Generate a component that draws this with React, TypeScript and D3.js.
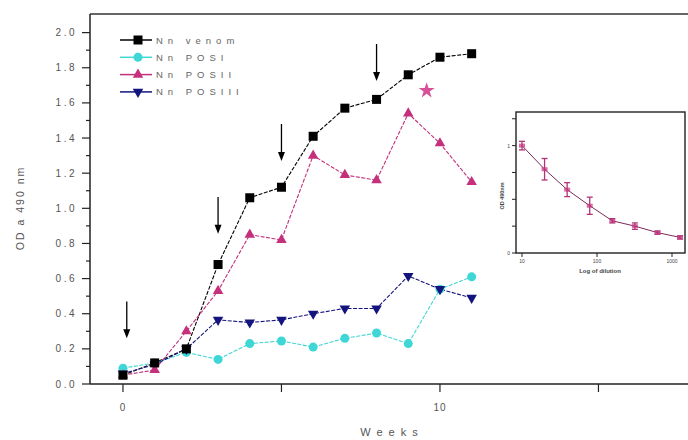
import React from 'react';
import * as d3 from 'd3';

// main chart: weeks 0..11
const weeks = [0, 1, 2, 3, 4, 5, 6, 7, 8, 9, 10, 11];
const venom = [0.05, 0.12, 0.2, 0.68, 1.06, 1.12, 1.41, 1.57, 1.62, 1.76, 1.86, 1.88];
const posI = [0.09, 0.12, 0.18, 0.14, 0.23, 0.245, 0.21, 0.26, 0.29, 0.23, 0.54, 0.61];
const posII = [0.05, 0.08, 0.3, 0.53, 0.85, 0.82, 1.3, 1.19, 1.16, 1.54, 1.37, 1.15];
const posIII = [0.06, 0.11, 0.2, 0.365, 0.35, 0.365, 0.4, 0.43, 0.43, 0.615, 0.54, 0.49];
const seriesNames = ['Nn venom', 'Nn POSI', 'Nn POSII', 'Nn POSIII'];

const yTicks = [0, 0.2, 0.4, 0.6, 0.8, 1.0, 1.2, 1.4, 1.6, 1.8, 2.0];
const xTicks = [0, 5, 10, 15];
const xTickLabels = ['0', '', '10', ''];

// immunisation arrows (week, value at arrow tip)
const arrowWeeks = [0.12, 3, 5, 8];
const arrowTips = [0.26, 0.855, 1.27, 1.725];
const arrowLen = 0.21;

// inset: titration curve
const dilutions = [10, 20, 40, 80, 160, 320, 640, 1280];
const insetOD = [1.0, 0.78, 0.59, 0.44, 0.3, 0.25, 0.19, 0.145];
const insetErr = [0.04, 0.1, 0.065, 0.08, 0.02, 0.03, 0.015, 0.015];
const insetXTicks = [10, 100, 1000];
const insetYTicks = [0, 0.25, 0.5, 0.75, 1.0, 1.25];

const W = 688;
const H = 440;

const colors = ['#000000', '#3fd6d6', '#c4307c', '#14147e'];

function Marker({ kind, x, y, color }: { kind: number; x: number; y: number; color: string }) {
  if (kind === 0) return <rect x={x - 4.5} y={y - 4.5} width={9} height={9} fill={color} />;
  if (kind === 1) return <circle cx={x} cy={y} r={4.5} fill={color} />;
  const tri = d3.symbol().type(d3.symbolTriangle).size(48)();
  return <path d={tri || ''} transform={`translate(${x},${y})${kind === 3 ? ' rotate(180)' : ''}`} fill={color} />;
}

export default function App() {
  const x = d3.scaleLinear().domain([-1.04, 18.5]).range([90, 709.4]);
  const y = d3.scaleLinear().domain([0, 2.106]).range([384, 14]);
  const all = [venom, posI, posII, posIII];
  const line = (vals: number[]) =>
    d3.line<number>().x((_, i) => x(weeks[i])).y(d => y(d))(vals) || '';

  const ix = d3.scaleLog().domain([8.32, 1490]).range([516, 685]);
  const iy = d3.scaleLinear().domain([0, 1.313]).range([253, 112]);
  const iline = d3.line<number>().x((_, i) => ix(dilutions[i])).y(d => iy(d))(insetOD) || '';

  const minorY = d3.range(0.1, 2.1, 0.2);
  const star = d3.symbol().type(d3.symbolStar).size(80)() || '';
  const arrowHead = 'M-3.5,-9 L3.5,-9 L0,0 Z';

  return (
    <div style={{ position: 'absolute', left: 0, top: 0 }}>
      <svg width={W} height={H} style={{ display: 'block', background: '#fff' }} fontFamily="Arial, 'Liberation Sans', sans-serif">
        {/* frame */}
        <line x1={90} x2={W} y1={14} y2={14} stroke="#333" strokeWidth={1.5} />
        <line x1={90} x2={90} y1={14} y2={384} stroke="#222" strokeWidth={1.5} />
        <line x1={90} x2={W} y1={384} y2={384} stroke="#222" strokeWidth={1.5} />

        {/* y ticks */}
        {yTicks.map(t => (
          <g key={'y' + t}>
            <line x1={82} x2={90} y1={y(t)} y2={y(t)} stroke="#222" strokeWidth={1.2} />
            <text x={77} y={y(t) + 3.5} textAnchor="end" fontSize={10} letterSpacing={2.5} fill="#555">
              {t.toFixed(1)}
            </text>
          </g>
        ))}
        {minorY.map(t => (
          <line key={'ym' + t} x1={86} x2={90} y1={y(t)} y2={y(t)} stroke="#222" strokeWidth={1.2} />
        ))}

        {/* x ticks */}
        {xTicks.map((t, i) => (
          <g key={'x' + t}>
            <line x1={x(t)} x2={x(t)} y1={384} y2={392} stroke="#222" strokeWidth={1.2} />
            <text x={x(t)} y={411} textAnchor="middle" fontSize={10} letterSpacing={1} fill="#555">
              {xTickLabels[i]}
            </text>
          </g>
        ))}

        <text x={392} y={436} textAnchor="middle" fontSize={11} letterSpacing={6} fill="#555">Weeks</text>
        <text transform="translate(24,208) rotate(-90)" textAnchor="middle" fontSize={10.5} letterSpacing={2} fill="#555">
          OD a 490 nm
        </text>

        {/* series */}
        {all.map((vals, s) => (
          <path key={'l' + s} d={line(vals)} fill="none" stroke={colors[s]} strokeWidth={1.1} strokeDasharray="4,1.5" />
        ))}
        {[posI, posIII, posII, venom].map(vals => {
          const s = all.indexOf(vals);
          return vals.map((v, i) => <Marker key={s + '-' + i} kind={s} x={x(weeks[i])} y={y(v)} color={colors[s]} />);
        })}

        {/* arrows */}
        {arrowWeeks.map((w, i) => (
          <g key={'a' + i}>
            <line x1={x(w)} x2={x(w)} y1={y(arrowTips[i] + arrowLen)} y2={y(arrowTips[i]) - 6} stroke="#000" strokeWidth={1.3} />
            <path d={arrowHead} transform={`translate(${x(w)},${y(arrowTips[i])})`} fill="#000" />
          </g>
        ))}
        <path d={star} transform={`translate(${x(9.58)},${y(1.67)})`} fill="#d9509a" />

        {/* legend */}
        {seriesNames.map((n, i) => {
          const ly = 40 + i * 17.3;
          return (
            <g key={'lg' + i}>
              <line x1={120} x2={152} y1={ly} y2={ly} stroke={colors[i]} strokeWidth={1.5} />
              <Marker kind={i} x={138} y={ly} color={colors[i]} />
              <text x={156} y={ly + 3.5} fontSize={9.5} letterSpacing={5} fill="#666">{n}</text>
            </g>
          );
        })}

        {/* inset */}
        <rect x={516} y={112} width={169} height={141} fill="#fff" stroke="#222" strokeWidth={1.4} />
        {insetYTicks.map(t => (
          <g key={'iy' + t}>
            <line x1={512} x2={516} y1={iy(t)} y2={iy(t)} stroke="#222" strokeWidth={1} />
            {(t === 0 || t === 1) && (
              <text x={510} y={iy(t) + 2} textAnchor="end" fontSize={5} fill="#444">{t}</text>
            )}
          </g>
        ))}
        {insetXTicks.map(t => (
          <g key={'ix' + t}>
            <line x1={ix(t)} x2={ix(t)} y1={253} y2={257} stroke="#222" strokeWidth={1} />
            <text x={ix(t)} y={263} textAnchor="middle" fontSize={5} fill="#444">{t}</text>
          </g>
        ))}
        <text x={600} y={273} textAnchor="middle" fontSize={6} fontWeight="bold" fill="#444">Log of dilution</text>
        <text transform="translate(504,196) rotate(-90)" textAnchor="middle" fontSize={5.5} fontWeight="bold" fill="#444">OD 490nm</text>
        <path d={iline} fill="none" stroke="#7a2a5a" strokeWidth={1} />
        {insetOD.map((v, i) => {
          const cx = ix(dilutions[i]);
          return (
            <g key={'ie' + i} stroke="#b03478" strokeWidth={1.3}>
              <line x1={cx} x2={cx} y1={iy(v - insetErr[i])} y2={iy(v + insetErr[i])} />
              <line x1={cx - 3} x2={cx + 3} y1={iy(v - insetErr[i])} y2={iy(v - insetErr[i])} />
              <line x1={cx - 3} x2={cx + 3} y1={iy(v + insetErr[i])} y2={iy(v + insetErr[i])} />
              <rect x={cx - 3} y={iy(v) - 2} width={6} height={4} fill="#c4307c" stroke="none" opacity={0.7} />
            </g>
          );
        })}
      </svg>
    </div>
  );
}
